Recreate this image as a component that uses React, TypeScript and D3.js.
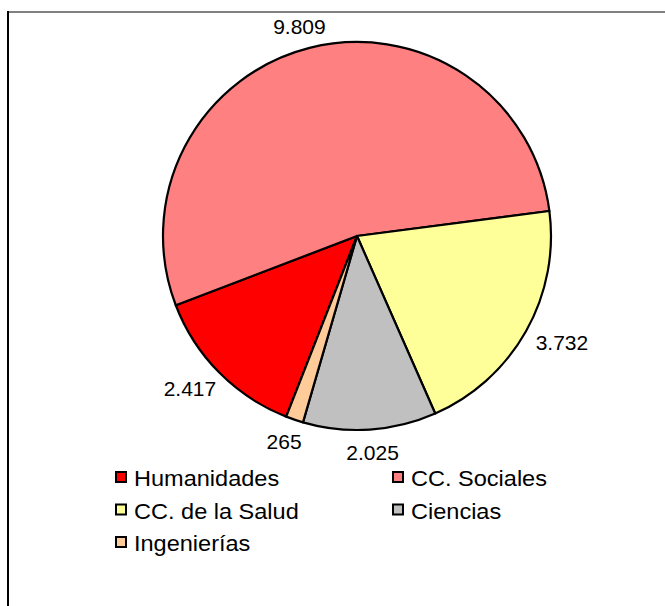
import { useEffect, useRef } from "react";
import * as d3 from "d3";

const categories = ["Humanidades", "CC. Sociales", "CC. de la Salud", "Ciencias", "Ingenierías"];
const values = [2417, 9809, 3732, 2025, 265];
const valueLabels = ["2.417", "9.809", "3.732", "2.025", "265"];
const colors = ["#ff0000", "#ff8080", "#ffff99", "#c0c0c0", "#ffcc99"];

export default function App() {
  const ref = useRef<SVGSVGElement | null>(null);

  useEffect(() => {
    if (!ref.current) return;
    const svg = d3.select(ref.current);
    svg.selectAll("*").remove();

    const width = 665;
    const height = 606;
    const cx = 357;
    const cy = 236;
    const radius = 194;
    const font = "'Liberation Sans', Arial, sans-serif";

    // frame: grey top edge, black left edge
    svg.append("line")
      .attr("x1", 8).attr("x2", width).attr("y1", 12).attr("y2", 12)
      .attr("stroke", "#808080").attr("stroke-width", 2);
    svg.append("line")
      .attr("x1", 8).attr("x2", 8).attr("y1", 11).attr("y2", height)
      .attr("stroke", "#000").attr("stroke-width", 2);

    const startDeg = 201.4;
    const pie = d3.pie<number>()
      .sort(null)
      .startAngle((startDeg * Math.PI) / 180)
      .endAngle(((startDeg + 360) * Math.PI) / 180);
    const arcs = pie(values);

    const arc = d3.arc<d3.PieArcDatum<number>>().innerRadius(0).outerRadius(radius);

    const g = svg.append("g").attr("transform", `translate(${cx},${cy})`);
    g.selectAll("path")
      .data(arcs)
      .join("path")
      .attr("d", arc)
      .attr("fill", (_, i) => colors[i])
      .attr("stroke", "#000")
      .attr("stroke-width", 2.2)
      .attr("stroke-linejoin", "round");

    // value labels outside the slices
    const labelR = radius + 15;
    const fs = 21;
    arcs.forEach((a, i) => {
      const mid = (a.startAngle + a.endAngle) / 2;
      const dx = Math.sin(mid);
      const dy = -Math.cos(mid);
      const t = g.append("text")
        .attr("font-family", font)
        .attr("font-size", fs)
        .attr("fill", "#000")
        .text(valueLabels[i]);
      const w = (t.node() as SVGTextElement).getComputedTextLength();
      const h = fs * 0.716;
      const x = dx * labelR + dx * w / 2;
      const y = dy * labelR + dy * h / 2;
      t.attr("x", x).attr("y", y + h / 2).attr("text-anchor", "middle");
    });

    // legend
    const legendX = [115, 392];
    const legendY = 486;
    const rowH = 32.5;
    const lg = svg.append("g");
    categories.forEach((c, i) => {
      const col = i % 2;
      const row = Math.floor(i / 2);
      const x = legendX[col];
      const y = legendY + row * rowH;
      lg.append("rect")
        .attr("x", x + 1).attr("y", y - 14)
        .attr("width", 10).attr("height", 10)
        .attr("fill", colors[i])
        .attr("stroke", "#000").attr("stroke-width", 2);
      lg.append("text")
        .attr("transform", `translate(${x + 19},${y}) scale(1.07,1)`)
        .attr("font-family", font)
        .attr("font-size", 22)
        .attr("fill", "#000")
        .text(c);
    });
  }, []);

  return (
    <svg
      ref={ref}
      width={665}
      height={606}
      style={{ position: "absolute", left: 0, top: 0, background: "#fff" }}
    />
  );
}
